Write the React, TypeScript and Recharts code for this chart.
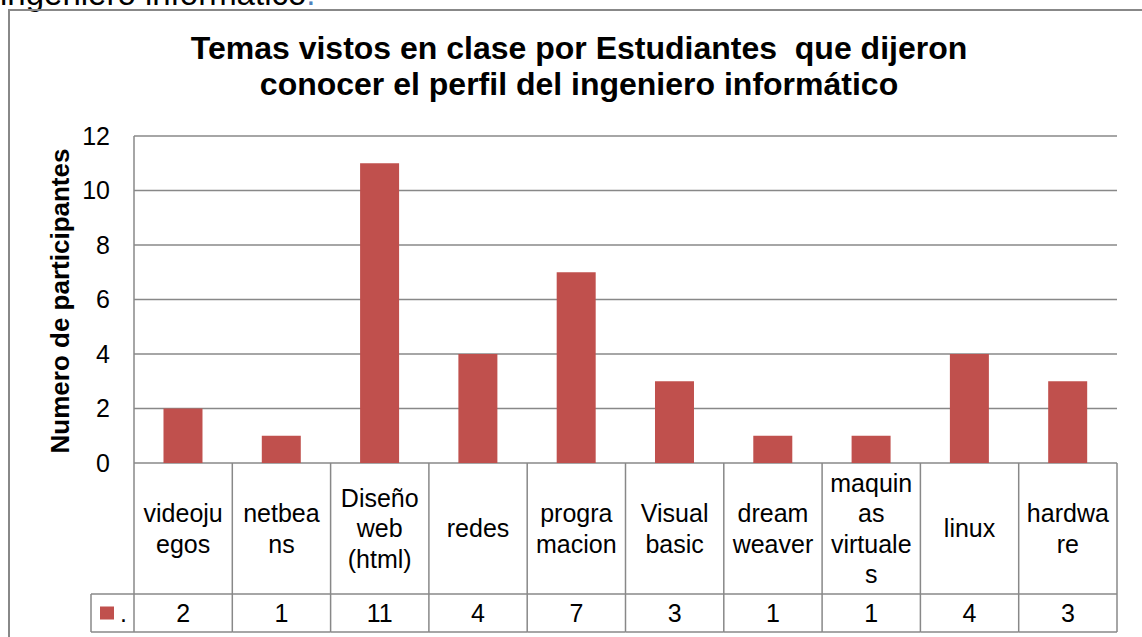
import { BarChart, Bar, XAxis, YAxis, CartesianGrid } from 'recharts';

const categories = [
  'videoju\negos',
  'netbea\nns',
  'Diseño\nweb\n(html)',
  'redes',
  'progra\nmacion',
  'Visual\nbasic',
  'dream\nweaver',
  'maquin\nas\nvirtuale\ns',
  'linux',
  'hardwa\nre',
];
const values = [2, 1, 11, 4, 7, 3, 1, 1, 4, 3];
const yTicks = [0, 2, 4, 6, 8, 10, 12];

const title = ['Temas vistos en clase por Estudiantes\u00a0 que dijeron', 'conocer el perfil del ingeniero informático'];
const yLabel = 'Numero de participantes';

const data = categories.map((c, i) => ({ name: c, value: values[i] }));

const W = 1142;
const H = 637;
const M = { top: 136, right: 25, left: 74, bottom: 0 };
const Y_AXIS_W = 60;
const PLOT_LEFT = M.left + Y_AXIS_W;
const BAND = (W - PLOT_LEFT - M.right) / categories.length;
const FONT = '"Liberation Sans", Arial, sans-serif';
const GRID = '#888888';
const BAR = '#C0504D';

const LABEL_ROW = 131;
const VALUE_ROW = 38;
const LEGEND_W = 43;

function TableTick(props: any) {
  const { x, y, payload, index } = props;
  const left = x - BAND / 2;
  const right = x + BAND / 2;
  const lines = String(payload.value).split('\n');
  const lh = 30.5;
  const midY = y + LABEL_ROW / 2;
  const firstY = midY - ((lines.length - 1) * lh) / 2;
  const rowTop = y + LABEL_ROW;
  const rowBot = rowTop + VALUE_ROW;
  const last = index === categories.length - 1;
  return (
    <g>
      <line x1={left} y1={y} x2={left} y2={rowBot} stroke={GRID} strokeWidth={1.5} />
      {last && <line x1={right} y1={y} x2={right} y2={rowBot} stroke={GRID} strokeWidth={1.5} />}
      <line x1={left} y1={rowTop} x2={right} y2={rowTop} stroke={GRID} strokeWidth={1.5} />
      <line x1={left} y1={rowBot} x2={right} y2={rowBot} stroke={GRID} strokeWidth={1.5} />
      {lines.map((l, i) => (
        <text key={i} x={x} y={firstY + i * lh} dy="0.355em" textAnchor="middle" fontSize={25} fontFamily={FONT} fill="#000">
          {l}
        </text>
      ))}
      <text x={x} y={(rowTop + rowBot) / 2} dy="0.355em" textAnchor="middle" fontSize={25} fontFamily={FONT} fill="#000">
        {values[index]}
      </text>
      {index === 0 && (
        <g>
          <line x1={left - LEGEND_W} y1={rowTop} x2={left} y2={rowTop} stroke={GRID} strokeWidth={1.5} />
          <line x1={left - LEGEND_W} y1={rowBot} x2={left} y2={rowBot} stroke={GRID} strokeWidth={1.5} />
          <line x1={left - LEGEND_W} y1={rowTop} x2={left - LEGEND_W} y2={rowBot} stroke={GRID} strokeWidth={1.5} />
          <rect x={left - LEGEND_W + 9} y={(rowTop + rowBot) / 2 - 6.5} width={14} height={13} fill={BAR} />
          <text x={left - LEGEND_W + 29} y={(rowTop + rowBot) / 2} dy="0.355em" fontSize={25} fontFamily={FONT} fill="#000">
            .
          </text>
        </g>
      )}
    </g>
  );
}

export default function App() {
  return (
    <div style={{ position: 'fixed', left: 0, top: 0, width: W, height: H, overflow: 'hidden', background: '#fff' }}>
      <div
        style={{
          position: 'absolute',
          left: 0,
          top: -23,
          fontFamily: FONT,
          fontSize: 33,
          lineHeight: '33px',
          whiteSpace: 'nowrap',
          color: '#000',
        }}
      >
        ingeniero informático<span style={{ color: '#4F81BD' }}>.</span>
      </div>
      <div
        style={{
          position: 'absolute',
          left: 8,
          top: 9,
          width: 1300,
          height: 800,
          border: `2px solid ${GRID}`,
        }}
      />
      <div style={{ position: 'absolute', left: 0, top: 0 }}>
        <BarChart width={W} height={H} data={data} margin={M} barCategoryGap="30%">
          <CartesianGrid vertical={false} stroke={GRID} strokeWidth={1.5} />
          <XAxis
            dataKey="name"
            interval={0}
            height={H - 463}
            axisLine={false}
            tickLine={false}
            tickSize={0}
            tickMargin={0}
            tick={<TableTick />}
          />
          <YAxis
            width={Y_AXIS_W}
            domain={[0, 12]}
            ticks={yTicks}
            axisLine={{ stroke: GRID, strokeWidth: 1.5 }}
            tickLine={false}
            tickSize={0}
            tickMargin={24}
            tick={{ fontSize: 25, fontFamily: FONT, fill: '#000' }}
          />
          <Bar dataKey="value" fill={BAR} isAnimationActive={false} />
        </BarChart>
      </div>
      <svg width={W} height={H} style={{ position: 'absolute', left: 0, top: 0, pointerEvents: 'none' }}>
        {title.map((t, i) => (
          <text
            key={i}
            x={579}
            y={48 + i * 36}
            dy="0.355em"
            textAnchor="middle"
            fontSize={32}
            fontWeight="bold"
            fontFamily={FONT}
            fill="#000"
          >
            {t}
          </text>
        ))}
        <text
          transform="translate(60,301) rotate(-90)"
          dy="0.355em"
          textAnchor="middle"
          fontSize={26}
          fontWeight="bold"
          fontFamily={FONT}
          fill="#000"
        >
          {yLabel}
        </text>
      </svg>
    </div>
  );
}
